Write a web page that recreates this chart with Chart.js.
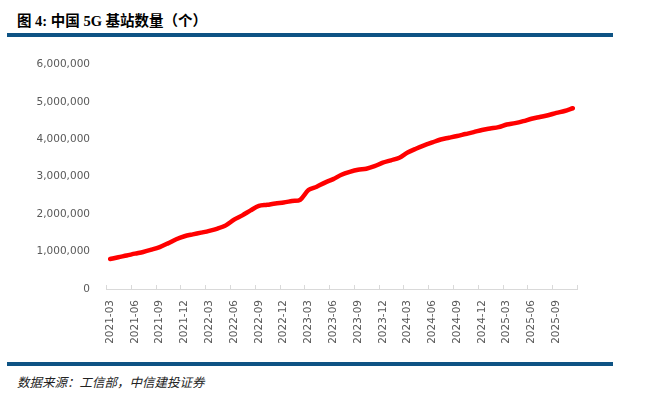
<!DOCTYPE html>
<html>
<head>
<meta charset="utf-8">
<script src="https://cdn.jsdelivr.net/npm/chart.js@4"></script>
<style>
  html, body { margin: 0; padding: 0; background: #fff; }
  #wrap { position: relative; width: 646px; height: 403px; overflow: hidden; background: #fff; }
  #title { position: absolute; left: 17px; top: 9px; font-family: "Liberation Serif", "Noto Sans CJK SC", serif; font-weight: bold; font-size: 14.5px; color: #000; white-space: nowrap; }
  .rule { position: absolute; left: 7px; width: 606px; background: #0E5384; }
  #footer { position: absolute; left: 17px; top: 372px; font-family: "Noto Sans CJK SC", sans-serif; font-style: italic; font-size: 12.5px; color: #222; white-space: nowrap; }
  #c { position: absolute; left: 0; top: 42px; }
</style>
</head>
<body>
<div id="wrap">
  <div id="title">图 4: 中国 5G 基站数量（个）</div>
  <div class="rule" style="top:33px;height:4px;"></div>
  <canvas id="c" width="646" height="315"></canvas>
  <div class="rule" style="top:362px;height:3.5px;"></div>
  <div id="footer">数据来源：工信部，中信建投证券</div>
</div>
<script>
// Categories: monthly, 2021-03 .. 2025-11
const months = [
  "2021-03","2021-04","2021-05","2021-06","2021-07","2021-08","2021-09","2021-10","2021-11","2021-12",
  "2022-01","2022-02","2022-03","2022-04","2022-05","2022-06","2022-07","2022-08","2022-09","2022-10","2022-11","2022-12",
  "2023-01","2023-02","2023-03","2023-04","2023-05","2023-06","2023-07","2023-08","2023-09","2023-10","2023-11","2023-12",
  "2024-01","2024-02","2024-03","2024-04","2024-05","2024-06","2024-07","2024-08","2024-09","2024-10","2024-11","2024-12",
  "2025-01","2025-02","2025-03","2025-04","2025-05","2025-06","2025-07","2025-08","2025-09","2025-10","2025-11"
];
// 5G base stations (count)
const baseStations = [
  800000, 850000, 895000, 945000, 990000, 1050000, 1120000, 1220000, 1330000, 1410000,
  1460000, 1506000, 1555000, 1615000, 1700000, 1854000, 1968000, 2102000, 2220000, 2250000, 2287000, 2312000,
  2350000, 2384000, 2644000, 2733000, 2844000, 2937000, 3055000, 3132000, 3189000, 3215000, 3282000, 3377000,
  3440000, 3509000, 3647000, 3748000, 3837000, 3917000, 3996000, 4042000, 4089000, 4141000, 4191000, 4251000,
  4290000, 4325000, 4395000, 4433000, 4486000, 4549000, 4597000, 4645000, 4706000, 4758000, 4831000
];
const yTicks = [0, 1000000, 2000000, 3000000, 4000000, 5000000, 6000000];
const labelEvery = 3;

const tickMarks = {
  id: 'tickMarks',
  beforeDatasetsDraw(chart) {
    const xs = chart.scales.x;
    const bottom = chart.chartArea.bottom;
    const ctx = chart.ctx;
    ctx.save();
    ctx.strokeStyle = '#d9d9d9';
    ctx.lineWidth = 1;
    ctx.beginPath();
    for (let i = 0; i <= months.length; i += labelEvery) {
      const x = Math.round(xs.getPixelForValue(i - 0.5)) + 0.5;
      ctx.moveTo(x, bottom - 4);
      ctx.lineTo(x, bottom);
    }
    ctx.stroke();
    ctx.restore();
  }
};

new Chart(document.getElementById('c'), {
  type: 'line',
  data: {
    labels: months,
    datasets: [{
      data: baseStations,
      borderColor: '#FF0000',
      borderWidth: 4.5,
      pointRadius: 0,
      tension: 0.3,
      borderCapStyle: 'round',
      borderJoinStyle: 'round',
      fill: false
    }]
  },
  options: {
    responsive: false,
    animation: false,
    devicePixelRatio: 1,
    layout: { padding: { left: 0, right: 69, top: 22.5, bottom: 0 } },
    plugins: { legend: { display: false }, tooltip: { enabled: false } },
    scales: {
      x: {
        type: 'category',
        offset: true,
        grid: { display: false, drawTicks: false },
        border: { display: true, color: '#d9d9d9', width: 1 },
        ticks: {
          autoSkip: false,
          maxRotation: 90,
          minRotation: 90,
          padding: 11,
          color: '#595959',
          font: { family: 'DejaVu Sans', size: 10.5 },
          callback: function(v, i) { return i % labelEvery === 0 ? months[i] : ''; }
        },
        afterFit: function(s) { s.height = 68; }
      },
      y: {
        min: yTicks[0],
        max: yTicks[yTicks.length - 1],
        grid: { display: false, drawTicks: false },
        border: { display: false },
        afterBuildTicks: function(s) { s.ticks = yTicks.map(v => ({ value: v })); },
        ticks: {
          padding: 16,
          color: '#595959',
          font: { family: 'DejaVu Sans', size: 10.5 },
          callback: function(v) { return Number(v).toLocaleString('en-US'); }
        },
        afterFit: function(s) { s.width = 106; }
      }
    }
  },
  plugins: [tickMarks]
});
</script>
</body>
</html>
